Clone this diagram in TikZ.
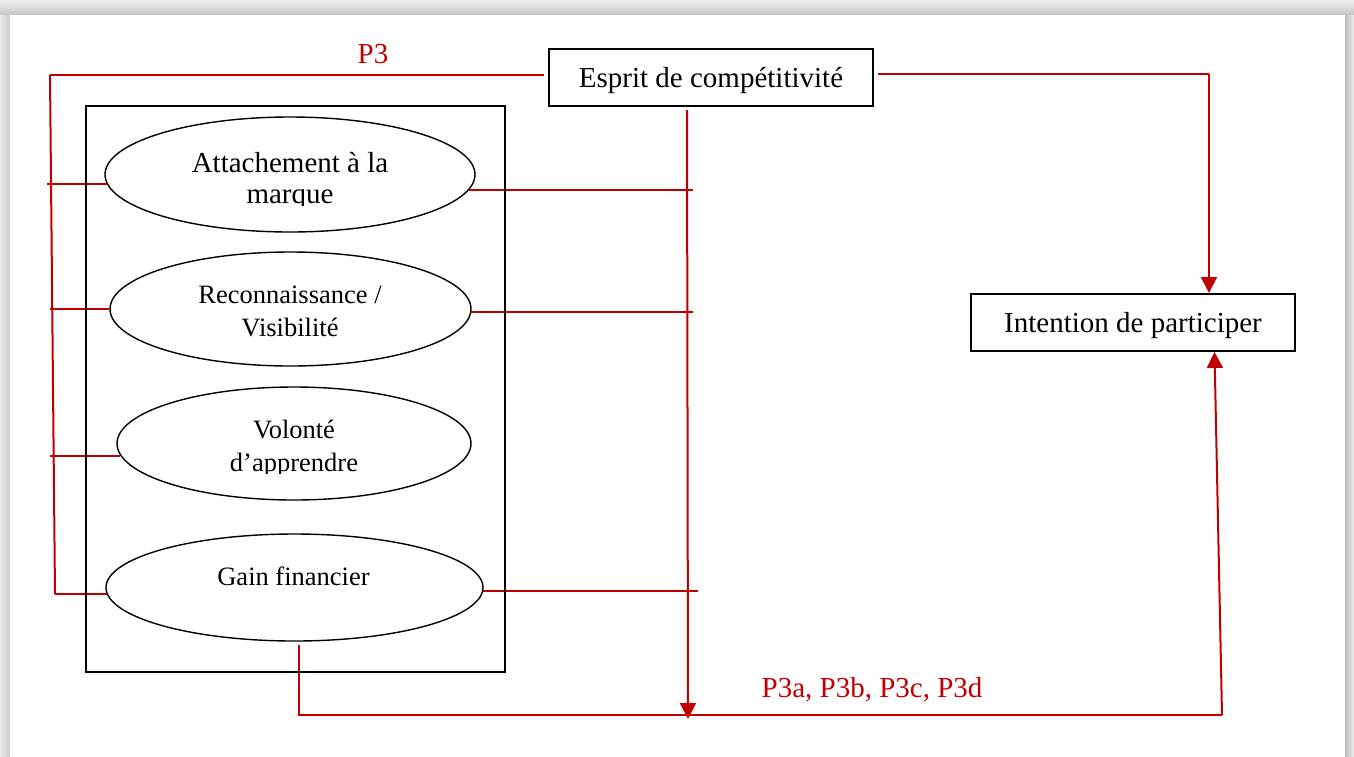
\documentclass[tikz,border=0pt]{standalone}
\usepackage{fontspec}
\setmainfont{Liberation Serif}
\usetikzlibrary{arrows.meta,shapes.geometric}
\definecolor{wred}{HTML}{C00000}
\begin{document}
\begin{tikzpicture}[x=1pt,y=-1pt,
  redline/.style={draw=wred, line width=2pt},
  redarrow/.style={redline, -{Triangle[width=16pt,length=16pt]}},
  box/.style={draw=black, line width=2pt, rectangle, inner sep=0pt,
    text height=24pt, text depth=4pt,
    minimum width=324pt, minimum height=57pt, font=\fontsize{29}{35}\selectfont},
  oval/.style={draw=black, line width=1.4pt, ellipse, inner sep=0pt},
  bigtxt/.style={anchor=base, inner sep=0pt, font=\fontsize{29}{35}\selectfont},
  smalltxt/.style={anchor=base, inner sep=0pt, font=\fontsize{26.5}{33}\selectfont},
  redlabel/.style={anchor=base, inner sep=0pt, text=wred, font=\fontsize{29}{35}\selectfont}]
\useasboundingbox (0,0) rectangle (1354,756);
% page shadow
\fill[gray!35] (0,0) rectangle (1354,756);
\shade[top color=gray!12, bottom color=gray!45] (0,0) rectangle (1354,15);
\shade[left color=gray!18, right color=gray!38] (0,15) rectangle (10,756);
\shade[left color=gray!50, right color=gray!15] (1345,15) rectangle (1354,756);
\fill[white] (10,15) rectangle (1345,756);

% nodes
\node[box] (esprit) at (711,77.5) {Esprit de compétitivité};
\node[box] (intention) at (1133,322.5) {Intention de participer};
\node[oval, minimum width=370pt, minimum height=115pt] (e1) at (290,174.5) {};
\node[oval, minimum width=361pt, minimum height=114pt] (e2) at (290.5,309) {};
\node[oval, minimum width=354pt, minimum height=113pt] (e3) at (294,443.5) {};
\node[oval, minimum width=377pt, minimum height=107pt] (e4) at (294.5,587.5) {};

% texts
\begin{scope}
\clip (100,120) rectangle (480,205);
\node[bigtxt] (t1a) at (290,172) {Attachement à la};
\node[bigtxt] (t1b) at (290,203.5) {marque};
\end{scope}
\node[smalltxt] (t2a) at (290,303) {Reconnaissance /};
\node[smalltxt] (t2b) at (290,336) {Visibilité};
\begin{scope}
\clip (100,390) rectangle (480,473);
\node[smalltxt] (t3a) at (294,438) {Volonté};
\node[smalltxt] (t3b) at (294,471.5) {d’apprendre};
\end{scope}
\node[smalltxt] (t4) at (293.5,585) {Gain financier};

\node[redlabel] (p3) at (373,63) {P3};
\node[redlabel] (p3abcd) at (872,697) {P3a, P3b, P3c, P3d};

% coordinates for connector corners and free ends
\coordinate (L0) at (50,75);
\coordinate (L4) at (55,594);
\coordinate (R0) at (1209,74);
\coordinate (C0) at (687,0);
\coordinate (C1) at (688,719);
\coordinate (X1) at (693,0);
\coordinate (X2) at (698,0);
\coordinate (B0) at (299,715);
\coordinate (B1) at (1222,715);
\coordinate (B2) at (1214.5,0);

% left bus
\draw[redline] (L0) -- (L4);
\draw[redline, shorten >=4pt] (L0) -- (L0 -| esprit.west);
\draw[redline, shorten <=-3pt] (L0 |- e1.183) -- (e1.183);
\draw[redline] (L0 |- e2.west) -- (e2.west);
\draw[redline] (L0 |- e3.184) -- (e3.184);
\draw[redline] (L4 |- e4.182) -- (e4.182);

% right stubs
\draw[redline] (e1.-5) -- (e1.-5 -| X1);
\draw[redline] (e2.-1) -- (e2.-1 -| X1);
\draw[redline] (e4.-1.5) -- (e4.-1.5 -| X2);

% top right arrow
\draw[redline, shorten <=4pt] (esprit.east |- R0) -- (R0);
\draw[redarrow] (R0) -- (R0 |- intention.north);

% central vertical arrow
\draw[redarrow, shorten <=3pt] (C0 |- esprit.south) -- (C1);

% bottom path
\draw[redline, shorten <=3pt] (B0 |- e4.south) -- (B0) -- (B1);
\draw[redarrow] (B1) -- (B2 |- intention.south);

% group rectangle
\node[draw=black, line width=2.6pt, rectangle, inner sep=0pt,
  minimum width=419pt, minimum height=566pt] (grp) at (295.5,389) {};
\end{tikzpicture}
\end{document}
